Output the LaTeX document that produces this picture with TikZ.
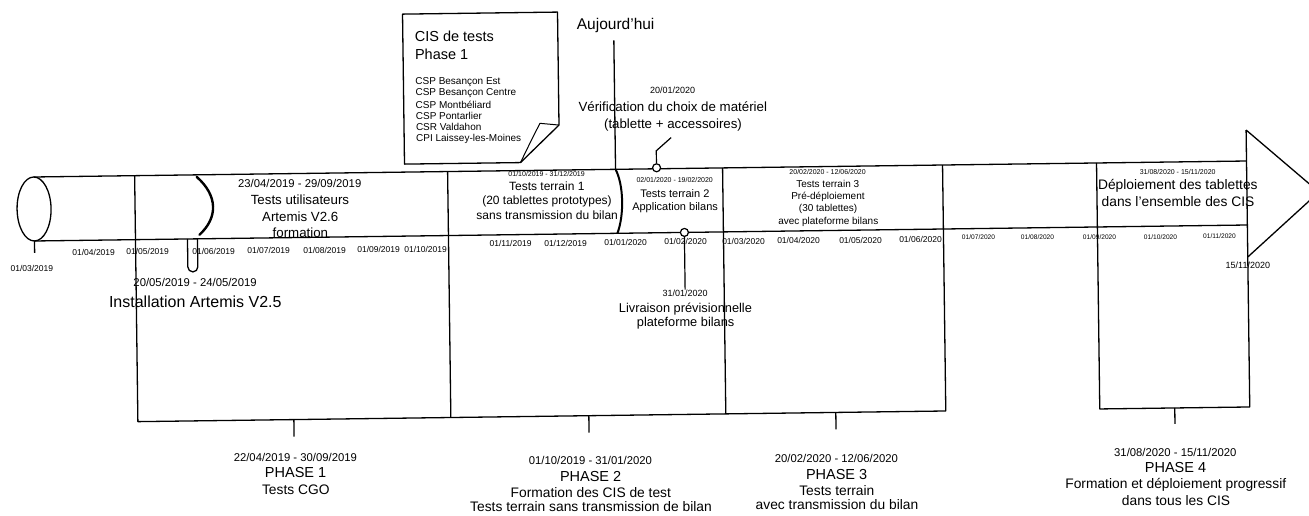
\documentclass[tikz,border=0pt]{standalone}
\usepackage{fontspec}
\setmainfont{Liberation Sans}
\begin{document}
\begin{tikzpicture}[x=1pt,y=-1pt,
  ln/.style={line width=1.3pt, line join=round},
  thk/.style={line width=2.4pt, line cap=round},
  tx/.style={inner sep=0pt, outer sep=0pt, align=center},
  tick/.style={tx, font=\fontsize{8.5}{10}\selectfont},
  ticksm/.style={tx, font=\fontsize{6.6}{8}\selectfont},
  bdate/.style={tx, font=\fontsize{7}{8}\selectfont},
  pdate/.style={tx, font=\fontsize{11.3}{13}\selectfont},
  ptxt/.style={tx, font=\fontsize{13.8}{15}\selectfont},
  phead/.style={tx, font=\fontsize{14.5}{16}\selectfont},
  mdate/.style={tx, font=\fontsize{9}{10}\selectfont},
  mtxt/.style={tx, font=\fontsize{13.3}{15}\selectfont},
  marker/.style={circle, draw, line width=1.2pt, fill=white, inner sep=0pt, minimum size=8pt}
]
\useasboundingbox (0,0) rectangle (1309,515);
\fill[white] (0,0) rectangle (1309,515);
\clip (0,0) rectangle (1309,515);
\begin{scope}[rotate around={0.756:(640,201)}]

% ---------- timeline band ----------
\draw[ln] (34,169) -- (1247,169);
\draw[ln] (34,233) -- (1247,233);
\draw[ln] (34,201) ellipse [x radius=17, y radius=32];
\draw[ln] (1247,138) -- (1319,201) -- (1247,265);

% ---------- phase boundaries and brackets ----------
\draw[ln] (135,169) -- (135,415) -- (943,415) -- (943,169);
\draw[ln] (448,169) -- (448,415);
\draw[ln] (723,169) -- (723,415);
\draw[ln] (1247,138) -- (1247,415) -- (1097,415) -- (1097,169);
\draw[ln] (291,415) -- (291,432);
\draw[ln] (586,415) -- (586,432);
\draw[ln] (833,415) -- (833,432);
\draw[ln] (1172,415) -- (1172,431);

% ---------- bar separators ----------
\draw[thk] (197,171) .. controls (218,190) and (218,212) .. (199,229);
\coordinate (todayt) at (616,40);
\coordinate (todayb) at (616,169);
\draw[ln] (todayt) -- (todayb);
\draw[line width=2pt] (todayb) .. controls (624,185) and (624,215) .. (617,233);

% ---------- start / end ----------
\draw[ln] (34,233) -- (34,245);
\node[tick] (start) at (31,260) {01/03/2019};
\node[tx, font=\fontsize{9}{10}\selectfont] (end) at (1247,273) {15/11/2020};

% ---------- tick labels ----------
\node[tick] (t1) at (93,245) {01/04/2019};
\node[tick] (t2) at (147,245) {01/05/2019};
\node[tick] (t3) at (213,245.5) {01/06/2019};
\node[tick] (t4) at (268,245.5) {01/07/2019};
\node[tick] (t5) at (324,246) {01/08/2019};
\node[tick] (t6) at (378,246.5) {01/09/2019};
\node[tick] (t7) at (425,247) {01/10/2019};
\node[tick] (t8) at (510,242) {01/11/2019};
\node[tick] (t9) at (565,242) {01/12/2019};
\node[tick] (t10) at (625,242) {01/01/2020};
\node[tick] (t11) at (685,242.5) {01/02/2020};
\node[tick] (t12) at (743,242.5) {01/03/2020};
\node[tick] (t13) at (798,243) {01/04/2020};
\node[tick] (t14) at (860,243.5) {01/05/2020};
\node[tick] (t15) at (920,243) {01/06/2020};
\node[ticksm] (t16) at (978,242) {01/07/2020};
\node[ticksm] (t17) at (1037,242.5) {01/08/2020};
\node[ticksm] (t18) at (1099,243) {01/09/2020};
\node[ticksm] (t19) at (1160,243.5) {01/10/2020};
\node[ticksm] (t20) at (1219,244) {01/11/2020};

% ---------- bar texts ----------
\node[pdate] (b1d) at (300,178.5) {23/04/2019 - 29/09/2019};
\node[mtxt] (b1a) at (300,195.5) {Tests utilisateurs};
\node[mtxt] (b1b) at (300,212.5) {Artemis V2.6};
\node[mtxt] (b1c) at (300,228) {formation};

\node[bdate] (b2d) at (547,172.5) {01/10/2019 - 31/12/2019};
\node[tx, font=\fontsize{12}{13}\selectfont] (b2a) at (547,185) {Tests terrain 1};
\node[tx, font=\fontsize{12}{13}\selectfont] (b2b) at (547,200) {(20 tablettes prototypes)};
\node[tx, font=\fontsize{12}{13}\selectfont] (b2c) at (547,214) {sans transmission du bilan};

\node[bdate] (b3d) at (675,180.5) {02/01/2020 - 19/02/2020};
\node[tx, font=\fontsize{11}{12}\selectfont] (b3a) at (675,194) {Tests terrain 2};
\node[tx, font=\fontsize{11}{12}\selectfont] (b3b) at (675,208) {Application bilans};

\node[bdate] (b4d) at (828,174.5) {20/02/2020 - 12/06/2020};
\node[tx, font=\fontsize{10}{11}\selectfont] (b4a) at (828,186) {Tests terrain 3};
\node[tx, font=\fontsize{10}{11}\selectfont] (b4b) at (828,199) {Pré-déploiement};
\node[tx, font=\fontsize{10}{11}\selectfont] (b4c) at (828,211.5) {(30 tablettes)};
\node[tx, font=\fontsize{10}{11}\selectfont] (b4e) at (828,224) {avec plateforme bilans};

\node[bdate] (b5d) at (1178,179) {31/08/2020 - 15/11/2020};
\node[ptxt] (b5a) at (1178,193) {Déploiement des tablettes};
\node[ptxt] (b5b) at (1178,209) {dans l'ensemble des CIS};

% ---------- CIS box ----------
\draw[ln, fill=white] (405,11) -- (560,11) -- (560,124) -- (521,161) -- (405,161) -- cycle;
\draw[line width=1pt] (560,124) -- (541,122) .. controls (533,137) and (527,149) .. (521,161);
\node[tx, anchor=west, font=\fontsize{14.5}{16}\selectfont] (c1) at (417,33) {CIS de tests};
\node[tx, anchor=west, font=\fontsize{14.5}{16}\selectfont] (c2) at (417,51) {Phase 1};
\node[tx, anchor=west, font=\fontsize{10}{11}\selectfont] (c3) at (417,79) {CSP Besançon Est};
\node[tx, anchor=west, font=\fontsize{10}{11}\selectfont] (c4) at (417,90.3) {CSP Besançon Centre};
\node[tx, anchor=west, font=\fontsize{10}{11}\selectfont] (c5) at (417,101.6) {CSP Montbéliard};
\node[tx, anchor=west, font=\fontsize{10}{11}\selectfont] (c6) at (417,113) {CSP Pontarlier};
\node[tx, anchor=west, font=\fontsize{10}{11}\selectfont] (c7) at (417,124.3) {CSR Valdahon};
\node[tx, anchor=west, font=\fontsize{10}{11}\selectfont] (c8) at (417,135.6) {CPI Laissey-les-Moines};

% ---------- today ----------
\node[tx, font=\fontsize{15.5}{17}\selectfont] (today) at (618,24.7) {Aujourd'hui};

% ---------- milestone above ----------
\node[mdate] (m1d) at (674,90.4) {20/01/2020};
\node[mtxt] (m1a) at (674,107.4) {Vérification du choix de matériel};
\node[mtxt] (m1b) at (674,125.4) {(tablette + accessoires)};
\coordinate (m1e) at (672,138);
\coordinate (m1k) at (657,151);
\node[marker] (m1) at (657,168) {};
\draw[line width=1.2pt] (m1) -- (m1k) -- (m1e);

% ---------- milestone below ----------
\node[marker] (m2) at (684,233) {};
\node[mdate] (m2d) at (684,293.6) {31/01/2020};
\node[tx, font=\fontsize{12.8}{14}\selectfont] (m2a) at (684,310) {Livraison prévisionnelle};
\node[tx, font=\fontsize{12.8}{14}\selectfont] (m2b) at (684,324) {plateforme bilans};
\draw[line width=1.2pt] (m2) -- (m2d);

% ---------- installation marker ----------
\draw[ln] (187,233) -- (187,261) arc[start angle=180, end angle=0, radius=5] -- (197,233);
\node[pdate] (i1d) at (194,277) {20/05/2019 - 24/05/2019};
\node[tx, font=\fontsize{16}{18}\selectfont] (i1a) at (194,296) {Installation Artemis V2.5};

% ---------- phase labels ----------
\node[pdate] (p1d) at (292,452.4) {22/04/2019 - 30/09/2019};
\node[phead] (p1a) at (292,468.4) {PHASE 1};
\node[ptxt] (p1b) at (292,485.4) {Tests CGO};

\node[pdate] (p2d) at (587,459.5) {01/10/2019 - 31/01/2020};
\node[phead] (p2a) at (587,475.5) {PHASE 2};
\node[ptxt] (p2b) at (587,491.5) {Formation des CIS de test};
\node[ptxt] (p2c) at (587,506) {Tests terrain sans transmission de bilan};

\node[pdate] (p3d) at (833,461.5) {20/02/2020 - 12/06/2020};
\node[phead] (p3a) at (833,477.5) {PHASE 3};
\node[ptxt] (p3b) at (833,493.5) {Tests terrain};
\node[ptxt] (p3c) at (833,507) {avec transmission du bilan};

\node[pdate] (p4d) at (1172,459) {31/08/2020 - 15/11/2020};
\node[phead] (p4a) at (1172,475) {PHASE 4};
\node[ptxt] (p4b) at (1172,492) {Formation et déploiement progressif};
\node[ptxt] (p4c) at (1172,507.5) {dans tous les CIS};

\end{scope}
\end{tikzpicture}
\end{document}
